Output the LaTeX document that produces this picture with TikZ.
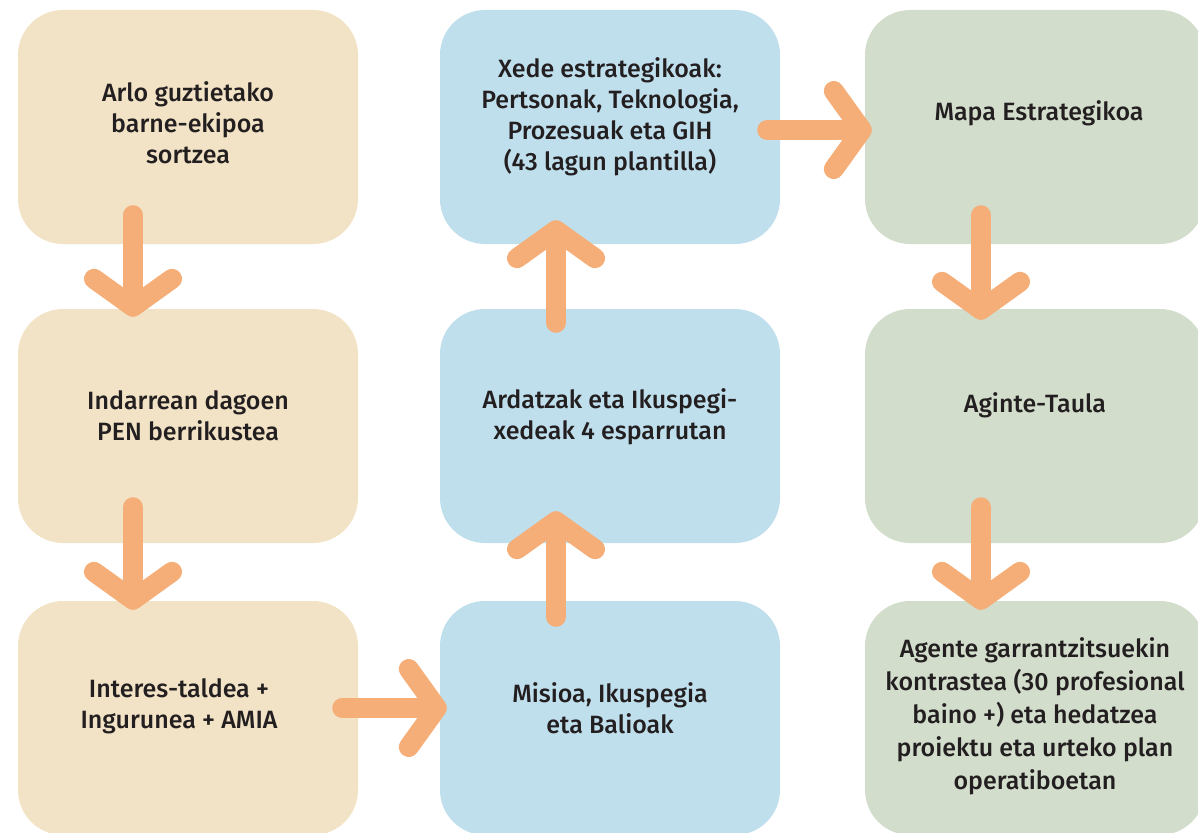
\documentclass[tikz,border=0pt]{standalone}
\usepackage{fontspec}
\setmainfont{Fira Sans}[UprightFont=* Medium]
\usetikzlibrary{arrows.meta}
\definecolor{boxsand}{HTML}{F2E3C6}
\definecolor{boxsky}{HTML}{C0DFEC}
\definecolor{boxsage}{HTML}{D2DDCC}
\definecolor{arroworange}{HTML}{F6AE78}
\definecolor{textdark}{HTML}{231F20}
\tikzset{
  stage/.style={rounded corners=45pt, minimum width=340pt, minimum height=234pt, inner sep=0pt},
  note/.style={align=center, text=textdark, inner sep=0pt, font=\fontsize{25}{31}\selectfont},
  flow/.style={draw=arroworange, line width=20pt, line cap=round,
    -{Straight Barb[length=28pt, width=78pt, line cap=round, line join=round]}}
}
\begin{document}
\begin{tikzpicture}[x=1pt, y=-1pt]
\useasboundingbox (0,0) rectangle (1198,832);
% left column
\node[stage, fill=boxsand] (team) at (188,127) {};
\node[stage, fill=boxsand] (review) at (188,426) {};
\node[stage, fill=boxsand] (groups) at (188,718) {};
% middle column
\node[stage, fill=boxsky] (mission) at (610,718) {};
\node[stage, fill=boxsky] (axes) at (610,426) {};
\node[stage, fill=boxsky] (goals) at (610,127) {};
% right column
\node[stage, fill=boxsage] (map) at (1035,127) {};
\node[stage, fill=boxsage] (board) at (1035,426) {};
\node[stage, fill=boxsage] (spread) at (1035,718) {};
% texts
\node[note] (team-t) at ([yshift=4pt]team.center) {Arlo guztietako\\barne-ekipoa\\sortzea};
\node[note] (review-t) at ([yshift=10pt]review.center) {Indarrean dagoen\\PEN berrikustea};
\node[note] (groups-t) at ([xshift=-9pt,yshift=12pt]groups.center) {Interes-taldea +\\Ingurunea + AMIA};
\node[note] (mission-t) at ([yshift=10pt]mission.center) {Misioa, Ikuspegia\\eta Balioak};
\node[note] (axes-t) at ([yshift=9pt]axes.center) {Ardatzak eta Ikuspegi-\\xedeak 4 esparrutan};
\node[note] (goals-t) at ([yshift=10pt]goals.center) {Xede estrategikoak:\\Pertsonak, Teknologia,\\Prozesuak eta GIH\\(43 lagun plantilla)};
\node[note] (map-t) at ([xshift=4pt,yshift=14pt]map.center) {Mapa Estrategikoa};
\node[note] (board-t) at ([yshift=21pt]board.center) {Aginte-Taula};
\node[note, font=\fontsize{25}{33}\selectfont] (spread-t) at ([yshift=2pt]spread.center) {Agente garrantzitsuekin\\kontrastea (30 profesional\\baino +) eta hedatzea\\proiektu eta urteko plan\\operatiboetan};
% arrows
\draw[flow] ([xshift=-55pt,yshift=29pt]team.south) -- ([xshift=-55pt,yshift=-8pt]review.north);
\draw[flow] ([xshift=-55pt,yshift=36pt]review.south) -- ([xshift=-55pt,yshift=-9pt]groups.north);
\draw[flow] ([xshift=-16pt,yshift=10pt]groups.east) -- ([xshift=7pt,yshift=10pt]mission.west);
\draw[flow] ([xshift=-54pt,yshift=-16pt]mission.north) -- ([xshift=-54pt,yshift=32pt]axes.south);
\draw[flow] ([xshift=-54pt,yshift=-14pt]axes.north) -- ([xshift=-54pt,yshift=24pt]goals.south);
\draw[flow] ([xshift=-13pt,yshift=-3pt]goals.east) -- ([xshift=7pt,yshift=-3pt]map.west);
\draw[flow] ([xshift=-54pt,yshift=29pt]map.south) -- ([xshift=-54pt,yshift=-11pt]board.north);
\draw[flow] ([xshift=-54pt,yshift=36pt]board.south) -- ([xshift=-54pt,yshift=-9pt]spread.north);
\end{tikzpicture}
\end{document}
